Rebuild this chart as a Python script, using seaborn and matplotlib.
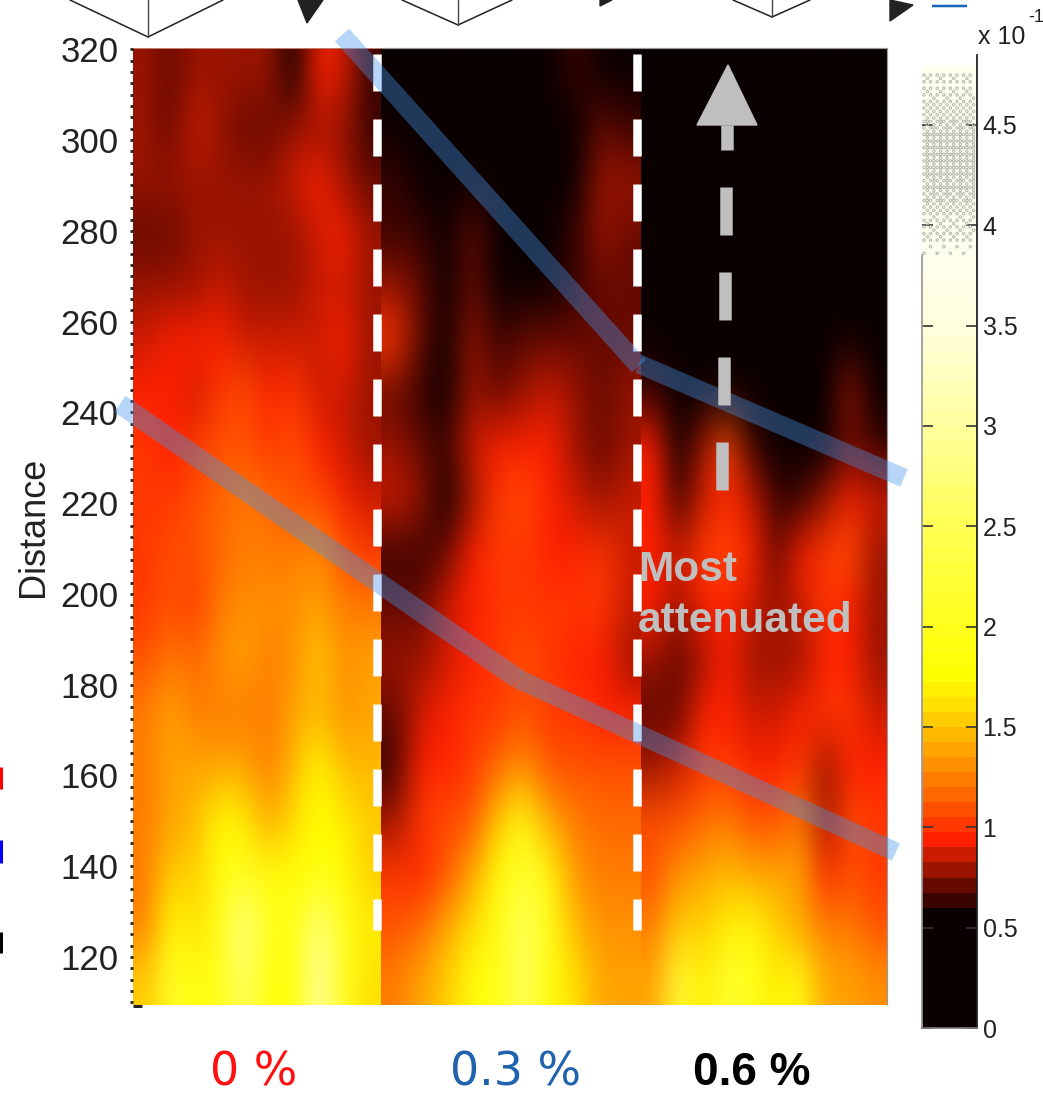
import numpy as np
import pandas as pd
import matplotlib
matplotlib.use("Agg")
import matplotlib.pyplot as plt
from matplotlib.colors import ListedColormap, to_hex
from matplotlib.patches import Polygon
import seaborn as sns

W, H = 1043, 1095
FONT = "Liberation Sans"

# amplitude (x 10^-1), rows top (far) to bottom (near)
panel_0 = [
 [.79,.73,.79,.80,.82,.79,.50,.92,.85,.60],
 [.75,.73,.84,.79,.71,.70,.77,.80,.76,.60],
 [.80,.76,.79,.78,.76,.77,.84,.93,.80,.68],
 [.71,.71,.81,.81,.78,.78,.80,.86,.92,.78],
 [.80,.81,.82,.87,.75,.76,.80,.84,.85,.80],
 [.88,.90,.95,.93,.83,.88,.85,.87,.93,.82],
 [.96,.95,.88,1.02,1.10,.96,1.0,.88,.87,.78],
 [.98,.96,1.0,1.08,1.08,1.03,1.05,.95,.88,.82],
 [1.02,1.03,1.08,1.13,1.22,1.13,1.12,1.05,.96,.86],
 [1.02,1.06,1.12,1.18,1.24,1.24,1.27,1.30,1.08,.98],
 [1.0,1.08,.98,1.25,1.30,1.30,1.30,1.40,1.25,1.20],
 [1.12,1.25,1.15,1.28,1.35,1.25,1.30,1.50,1.30,1.40],
 [1.20,1.35,1.25,1.22,1.22,1.20,1.35,1.45,1.30,1.40],
 [1.25,1.40,1.35,1.35,1.35,1.25,1.45,1.75,1.45,1.45],
 [1.25,1.40,1.45,1.75,1.70,1.35,1.60,1.75,1.65,1.50],
 [1.25,1.55,1.50,1.80,1.95,1.85,1.75,1.80,1.75,1.55],
 [1.25,1.75,1.60,2.0,2.9,2.0,1.90,2.8,2.0,1.70],
 [1.50,2.1,1.85,1.95,2.6,1.80,1.80,3.0,1.95,1.60],
]
panel_03 = [
 [.45,.45,.40,.55,.40,.30,.45,.60,.55,.30],
 [.50,.45,.45,.50,.35,.30,.35,.55,.68,.60],
 [.65,.55,.50,.50,.40,.30,.30,.55,.75,.78],
 [.65,.65,.55,.70,.50,.30,.35,.60,.78,.72],
 [.75,.70,.50,.72,.35,.35,.50,.65,.70,.68],
 [.98,.70,.55,.80,.65,.70,.72,.72,.72,.72],
 [.72,.62,.52,.82,.72,.82,.88,.75,.72,.76],
 [.80,.70,.62,.86,.90,.96,.92,.82,.74,.80],
 [.86,.80,.58,.78,1.03,1.10,.96,.87,.76,.86],
 [.62,.62,.70,.92,.98,.98,.92,.90,.98,.88],
 [.73,.70,.85,.97,.98,1.0,1.03,.98,.98,.88],
 [.76,.82,.86,.92,1.0,1.06,1.03,.96,.93,.75],
 [.72,.88,.90,.98,1.02,1.08,1.02,.98,.96,.95],
 [.62,.93,.97,1.0,1.15,1.30,1.10,1.05,1.07,1.10],
 [.80,1.0,1.05,1.12,1.50,1.85,1.40,1.20,1.15,1.15],
 [1.0,.95,1.10,1.40,1.75,2.2,1.80,1.30,1.20,1.20],
 [1.10,1.15,1.40,1.60,1.90,2.6,1.90,1.45,1.28,1.30],
 [1.20,1.40,1.55,1.80,1.90,2.6,1.85,1.60,1.35,1.38],
]
panel_06 = [
 [.45,.30,.30,.30,.30,.30,.30,.30,.30,.30],
 [.50,.35,.30,.30,.30,.30,.30,.30,.30,.30],
 [.50,.35,.30,.30,.30,.30,.30,.30,.40,.30],
 [.50,.40,.30,.30,.30,.30,.30,.30,.50,.35],
 [.45,.40,.40,.30,.30,.30,.30,.40,.50,.35],
 [.50,.42,.50,.40,.30,.30,.30,.40,.50,.40],
 [.65,.45,.50,.55,.35,.30,.35,.45,.75,.50],
 [.90,.55,.80,1.10,.65,.45,.45,.55,.72,.60],
 [.95,.65,.85,.95,.85,.65,.65,.82,.90,.85],
 [.95,.88,1.0,1.05,.95,.72,.90,1.0,1.08,.80],
 [.90,.82,.95,.92,.88,.78,.88,.98,.95,.82],
 [.75,.72,.78,.90,.75,.80,.82,.90,.95,.82],
 [.74,.74,.90,.95,.85,.86,.95,1.0,1.0,.88],
 [.82,.84,1.0,1.0,.92,.95,1.0,.82,.95,.95],
 [1.05,1.05,1.15,1.20,1.10,1.12,1.20,.82,1.08,1.0],
 [1.12,1.30,1.35,1.45,1.35,1.40,1.40,.90,1.12,1.0],
 [1.20,1.55,1.55,1.70,1.80,1.55,1.40,1.25,1.25,1.10],
 [1.35,2.3,1.70,2.2,1.95,1.70,1.90,1.40,1.40,1.30],
]
panel_labels = ["0 %", "0.3 %", "0.6 %"]
distance_ticks = [120, 140, 160, 180, 200, 220, 240, 260, 280, 300, 320]
scale_ticks = [0, 0.5, 1, 1.5, 2, 2.5, 3, 3.5, 4, 4.5]
scale_tick_labels = ["0", "0.5", "1", "1.5", "2", "2.5", "3", "3.5", "4", "4.5"]
scale_levels = [i * 0.075 + 0.0375 for i in range(64)]

# stepped colour scale
low_colors = ["#0a0000"] * 8 + ["#3a0400", "#660a00", "#9a1400", "#cc1c00", "#ff2000", "#ff3800",
              "#ff5000", "#ff6800", "#ff7c00", "#ff9000", "#ffa400", "#ffb800", "#ffcc00",
              "#ffe000", "#fff000"]
high_colors = [to_hex((1, 1, float(np.interp(v, [1.75, 2.5, 3.0, 3.5, 3.9], [0, .33, .62, .87, .94]))))
               for v in scale_levels[len(low_colors):]]
cmap = ListedColormap(low_colors + high_colors)
VMAX = 4.8

sns.set_theme(style="white")
plt.rcParams["font.family"] = [FONT, "DejaVu Sans"]
fig = plt.figure(figsize=(W / 100, H / 100), dpi=100, facecolor="white")


def box(x0, y0, x1, y1, **kw):
    return fig.add_axes([x0 / W, 1 - y1 / H, (x1 - x0) / W, (y1 - y0) / H], **kw)


PANEL_TOP, PANEL_BOTTOM = 48, 1005
panel_edges = [(133, 381), (381, 641), (641, 887)]
for (x0, x1), data in zip(panel_edges, [panel_0, panel_03, panel_06]):
    ax = box(x0, PANEL_TOP, x1, PANEL_BOTTOM)
    frame = pd.DataFrame(data)
    sns.heatmap(frame, ax=ax, cmap=cmap, vmin=0, vmax=VMAX, cbar=False,
                xticklabels=False, yticklabels=False)
    ax.autoscale(False)
    ax.imshow(frame.values, extent=(0, frame.shape[1], frame.shape[0], 0), cmap=cmap,
              vmin=0, vmax=VMAX, aspect="auto", interpolation="bicubic",
              interpolation_stage="rgba", zorder=3)
    for s in ax.spines.values():
        s.set_visible(False)

# distance axis over the first panel
ax_d = box(133, PANEL_TOP, 381, PANEL_BOTTOM)
ax_d.patch.set_alpha(0)
ax_d.set_ylim(109.4, 320.3)
ax_d.set_xlim(0, 1)
ax_d.set_xticks([])
ax_d.set_yticks(distance_ticks)
ax_d.set_yticks(np.arange(110, 320.1, 2.5), minor=True)
ax_d.tick_params(axis="y", which="major", left=True, length=2, width=2, color="#222222",
                 labelsize=25, pad=8.5, labelcolor="#222222")
ax_d.tick_params(axis="y", which="minor", left=True, length=2, width=2, color="#222222")
for s in ax_d.spines.values():
    s.set_visible(False)
for lab in ax_d.get_yticklabels():
    lab.set_fontfamily(FONT)
ax_d.set_ylabel("Distance", fontsize=26, color="#222222", labelpad=7, family=FONT)

# colour scale
ax_bar = box(922, 65, 977, 1028)
sns.heatmap(pd.DataFrame({"level": scale_levels[::-1]}), ax=ax_bar, cmap=cmap, vmin=0, vmax=VMAX,
            cbar=False, xticklabels=False, yticklabels=False)
ax_s = box(922, 55, 977, 1028)
ax_s.patch.set_alpha(0)
ax_s.set_xlim(0, 55)
ax_s.set_ylim(0, 973 / 200.7)
ax_s.set_xticks([])
ax_s.set_yticks(scale_ticks, labels=scale_tick_labels)
ax_s.tick_params(axis="y", left=True, right=True, direction="in", length=8, width=1.2,
                 color="#333333", labelleft=False, labelright=True, labelsize=18, pad=4,
                 labelcolor="#222222")
for lab in ax_s.get_yticklabels():
    lab.set_fontfamily(FONT)
ax_s.spines["top"].set_visible(False)
ax_s.spines["right"].set_color("#222222")
ax_s.spines["right"].set_linewidth(1.3)
ax_s.spines["left"].set_color("#999999")
ax_s.spines["left"].set_bounds(0, 3.85)
ax_s.spines["bottom"].set_color("#777777")

# ordered-dither speckle at the top of the scale
bayer = np.array([[0, 8, 2, 10], [12, 4, 14, 6], [3, 11, 1, 9], [15, 7, 13, 5]]) / 16 + 1 / 32
step = 3.3
speck_x, speck_y = [], []
for i, px in enumerate(np.arange(2, 53.5, step)):
    for j, v in enumerate(np.arange(3.86, 4.76, step / 200.7)):
        keep = np.interp(v, [3.85, 3.95, 4.15, 4.4, 4.6, 4.76], [.08, .3, .65, .78, .45, .25])
        if bayer[j % 4, i % 4] < keep:
            speck_x.append(px)
            speck_y.append(v)
ax_s.scatter(speck_x, speck_y, s=3.2, facecolors="none", edgecolors="#b4b4ac", linewidths=0.7, zorder=1)

# overlay in picture coordinates for the annotations
ov = fig.add_axes([0, 0, 1, 1])
ov.patch.set_alpha(0)
ov.set_xlim(0, W)
ov.set_ylim(H, 0)
ov.axis("off")


def stroke(xs, ys, px, color, alpha=1.0, z=5):
    ov.plot(xs, ys, color=color, lw=px * 0.72, alpha=alpha, solid_capstyle="butt", zorder=z)


# panel edges
stroke([381, 887, 887], [48, 48, 1005], 1.2, "#999999", z=4)
stroke([133, 381], [48, 48], 1, "#c08070", z=4)

# white dashed separators
for x in (377, 636.5):
    ov.plot([x, x], [54, 930], color="white", lw=8.5 * 0.72, zorder=6,
            dashes=(37 / 8.5, 28 / 8.5), dash_capstyle="butt")

# translucent fronts
for pts, px in [([(342, 35), (639, 366)], 19), ([(639, 364), (904, 478)], 19),
                ([(120, 404), (518, 679)], 20), ([(518, 679), (896, 852)], 19)]:
    stroke([p[0] for p in pts], [p[1] for p in pts], px, "#4395ec", alpha=0.39, z=7)

# grey dashed arrow
for (xa, ya), (xb, yb) in [((727, 125), (727, 150)), ((726, 187), (726, 235)),
                           ((725, 272), (725, 320)), ((724, 357), (724, 405)),
                           ((722, 442), (722, 490))]:
    stroke([xa, xb], [ya, yb], 12.5, "#bfbfbf", z=8)
ov.add_patch(Polygon([(728, 65), (697, 125), (757, 125)], closed=True, color="#bfbfbf", zorder=8))

ov.text(638, 570, "Most", fontsize=30.5, fontweight="bold", color="#bfbfbf", va="center", ha="left", zorder=9)
ov.text(638, 621, "attenuated", fontsize=30.5, fontweight="bold", color="#bfbfbf", va="center", ha="left", zorder=9)

# captions
ov.text(254, 1085, panel_labels[0], fontsize=33, color="#ff1010", ha="center", va="baseline", family="DejaVu Sans")
ov.text(515, 1085, panel_labels[1], fontsize=33, color="#1f62ad", ha="center", va="baseline", family="DejaVu Sans")
ov.text(752, 1085, panel_labels[2], fontsize=33, color="black", fontweight="bold", ha="center", va="baseline")

# scale multiplier
ov.text(978, 37, "x 10", fontsize=18, color="#222222", ha="left", va="center")
ov.text(1028, 17, "-1", fontsize=13, color="#222222", ha="left", va="center")

# cropped pieces of the surrounding figure
for apex, left, right in [((148, 37), 70, 223), ((458, 25), 402, 512), ((772, 17), 733, 810)]:
    ov.plot([left, apex[0], right], [0, apex[1], 0], color="#222222", lw=1.1, zorder=2)
    ov.plot([apex[0], apex[0]], [0, apex[1]], color="#444444", lw=1.0, zorder=2)
for tri in [[(298, 0), (323, 0), (307, 23)], [(600, 0), (612, 0), (600, 6)], [(890, 0), (913, 5), (890, 21)]]:
    ov.add_patch(Polygon(tri, closed=True, color="#222222", zorder=2))
stroke([932, 967], [6, 6], 2.5, "#1565b8", z=2)
for color, y0, y1 in [("#ff0000", 767, 789), ("#0000ff", 840, 863), ("#000000", 932, 953)]:
    stroke([1, 1], [y0, y1], 3, color, z=2)
stroke([133, 142], [1006, 1006], 3, "#222222", z=2)

fig.savefig("out.png", dpi=100, facecolor="white")
